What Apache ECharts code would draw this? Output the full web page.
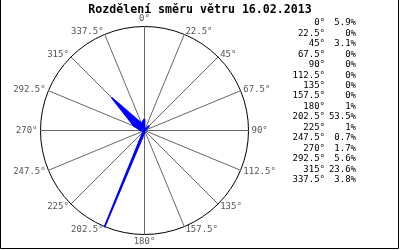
<!DOCTYPE html>
<html>
<head>
<meta charset="utf-8">
<script src="https://cdn.jsdelivr.net/npm/echarts@6/dist/echarts.min.js"></script>
<style>
html,body{margin:0;padding:0;background:#fff;}
#c{width:400px;height:250px;}
</style>
</head>
<body>
<div id="c"></div>
<script>
var titleText = 'Rozdělení směru větru 16.02.2013';
var directions = ['0°','22.5°','45°','67.5°','90°','112.5°','135°','157.5°','180°','202.5°','225°','247.5°','270°','292.5°','315°','337.5°'];
var percents = [5.9, 0, 3.1, 0, 0, 0, 0, 0, 1, 53.5, 1, 0.7, 1.7, 5.6, 23.6, 3.8];
var radiusMax = 53.5;

var chart = echarts.init(document.getElementById('c'), null, {renderer:'canvas'});

// radar goes counter-clockwise, so list compass directions in reverse order after 0°
var order = [0];
for (var i = directions.length - 1; i >= 1; i--) order.push(i);
var indicators = order.map(function(i){ return {name: directions[i], max: radiusMax, min: 0}; });
var values = order.map(function(i){ return percents[i]; });

var mono = 'DejaVu Sans Mono';
var graphics = [
  {type:'polyline', shape:{points:[[0.5,0],[0.5,248.5],[398.5,248.5],[398.5,0]]}, style:{stroke:'#000', lineWidth:1, fill:null}},
  {type:'text', x:200, y:10, style:{text:titleText, font:'bold 11.6px "'+mono+'"', fill:'#000', align:'center', verticalAlign:'middle'}}
];
for (var k = 0; k < directions.length; k++) {
  var y = 23 + k * 10.45;
  graphics.push({type:'text', x:325, y:y, style:{text:directions[k], font:'9px "'+mono+'"', fill:'#000', align:'right', verticalAlign:'middle'}});
  graphics.push({type:'text', x:356, y:y, style:{text:percents[k] + '%', font:'9px "'+mono+'"', fill:'#000', align:'right', verticalAlign:'middle'}});
}

chart.setOption({
  animation: false,
  radar: {
    center: [144.5, 130.5],
    radius: 104,
    startAngle: 90,
    shape: 'circle',
    splitNumber: 1,
    indicator: indicators,
    nameGap: 3,
    axisName: {color:'#555', fontFamily: mono, fontSize: 9},
    axisLine: {lineStyle:{color:'#666', width:1}},
    axisTick: {show:false},
    splitLine: {lineStyle:{color:'#000', width:1}},
    splitArea: {show:false}
  },
  series: [{
    type: 'radar',
    symbol: 'none',
    data: [{value: values}],
    lineStyle: {color:'#0000ff', width:1.8},
    areaStyle: {color:'#0000ff', opacity:1},
    itemStyle: {color:'#0000ff'}
  }],
  graphic: graphics
});
</script>
</body>
</html>
